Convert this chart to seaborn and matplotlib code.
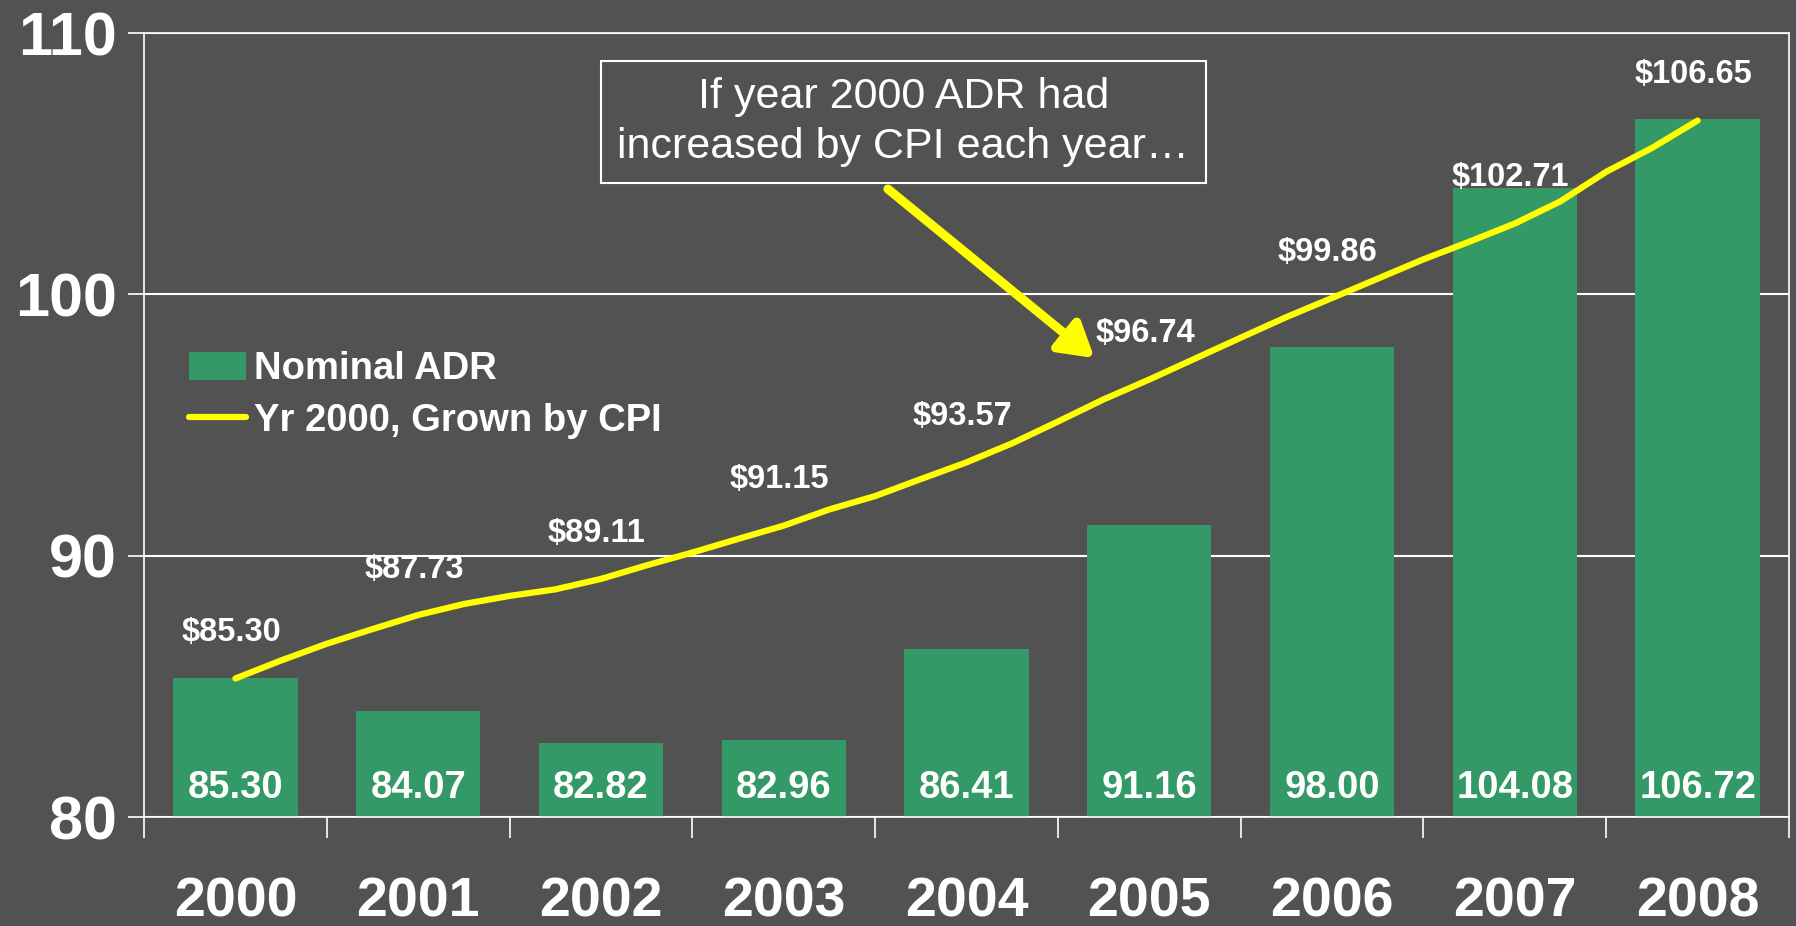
import numpy as np
import matplotlib
matplotlib.use("Agg")
import matplotlib.pyplot as plt
import seaborn as sns
from matplotlib.patches import Patch
from matplotlib.lines import Line2D

# ---------------- data ----------------
years = ["2000", "2001", "2002", "2003", "2004", "2005", "2006", "2007", "2008"]
nominal_adr = [85.30, 84.07, 82.82, 82.96, 86.41, 91.16, 98.00, 104.08, 106.72]
cpi_annual = [85.30, 87.73, 89.11, 91.15, 93.57, 96.74, 99.86, 102.71, 106.65]
# quarterly readings of the CPI-grown line (2000Q1 ... 2008Q1)
cpi_quarterly = [85.30, 85.99, 86.63, 87.19,
                 87.73, 88.15, 88.46, 88.71,
                 89.11, 89.63, 90.12, 90.64,
                 91.15, 91.77, 92.28, 92.93,
                 93.57, 94.30, 95.13, 95.98,
                 96.74, 97.54, 98.34, 99.13,
                 99.86, 100.60, 101.34, 102.01,
                 102.71, 103.56, 104.69, 105.60,
                 106.65]
yticks = [80, 90, 100, 110]
legend_labels = ["Nominal ADR", "Yr 2000, Grown by CPI"]
note_text = "If year 2000 ADR had\nincreased by CPI each year\u2026"

# ---------------- style ----------------
BG = "#525252"
GREEN = "#339966"
YELLOW = "#FFFF00"

sns.set_style("dark", {"axes.facecolor": BG, "figure.facecolor": BG})
plt.rcParams["font.family"] = ["Liberation Sans", "DejaVu Sans"]

W, H = 1796, 926
fig = plt.figure(figsize=(W / 100, H / 100), dpi=100)
fig.patch.set_facecolor(BG)
L, R, T, B = 144, 1789, 33, 817
ax = fig.add_axes([L / W, 1 - B / H, (R - L) / W, (B - T) / H])
ax.set_facecolor(BG)

# bars
sns.barplot(x=years, y=nominal_adr, color=GREEN, saturation=1, width=0.68,
            edgecolor="none", linewidth=0, ax=ax, zorder=2)

# line (quarterly positions on the categorical axis)
qpos = np.arange(len(cpi_quarterly)) / 4.0
ax.plot(qpos, cpi_quarterly, color=YELLOW, lw=4.5, solid_capstyle="round",
        solid_joinstyle="round", zorder=4)

# axes
ax.set_xlim(-0.5, len(years) - 0.5)
ax.set_ylim(80, 110)
ax.set_yticks(yticks)
ax.set_yticklabels([str(v) for v in yticks], fontsize=44, fontweight="bold",
                   color="white")
ax.yaxis.grid(True, color="white", lw=1.5, zorder=0)
ax.xaxis.grid(False)
ax.set_axisbelow(True)
ax.set_xlabel("")
ax.set_ylabel("")

ax.set_xticks(np.arange(-0.5, len(years), 1.0))
ax.set_xticklabels([])
ax.set_xticks(np.arange(len(years)), minor=True)
ax.set_xticklabels(years, minor=True, fontsize=40, fontweight="bold",
                   color="white")
ax.tick_params(axis="x", which="major", length=15, width=1.2, color="white",
               direction="out", bottom=True)
ax.tick_params(axis="x", which="minor", length=0, pad=42.5, bottom=True)
ax.tick_params(axis="y", which="major", length=11.5, width=1.2, color="white",
               direction="out", pad=8, left=True)

for sp in ax.spines.values():
    sp.set_visible(True)
    sp.set_color("white")
    sp.set_linewidth(1.2)

# value labels
for i, v in enumerate(nominal_adr):
    ax.annotate(f"{v:.2f}", xy=(i, 80), xytext=(0, 21),
                textcoords="offset points", ha="center", va="center",
                fontsize=27.5, fontweight="bold", color="white", zorder=5)
for i, v in enumerate(cpi_annual):
    ax.annotate(f"${v:.2f}", xy=(i, v), xytext=(-3, 33),
                textcoords="offset points", ha="center", va="center",
                fontsize=23.5, fontweight="bold", color="white", zorder=5)

# legend
handles = [Patch(facecolor=GREEN, edgecolor="none"),
           Line2D([0], [0], color=YELLOW, lw=4.5, solid_capstyle="round")]
leg = ax.legend(handles, legend_labels, loc="upper left",
                bbox_to_anchor=(0.0275, 0.594), frameon=False,
                prop={"size": 27.5, "weight": "bold"}, labelcolor="white",
                handlelength=1.48, handleheight=0.78, handletextpad=0.22,
                labelspacing=0.40, borderpad=0, borderaxespad=0)

# note box and arrow
ax.text(3.654, 106.6, note_text, ha="center", va="center", fontsize=31,
        color="white", linespacing=1.3, zorder=6,
        bbox=dict(boxstyle="square,pad=0.38", fc="none", ec="white", lw=1.5))
ax.annotate("", xy=(4.70, 97.56), xytext=(3.57, 104.03),
            arrowprops=dict(arrowstyle="-|>,head_length=1.0,head_width=0.6",
                            color=YELLOW, lw=6.5, mutation_scale=20,
                            shrinkA=0, shrinkB=0),
            zorder=6)

fig.savefig("out.png", dpi=100, facecolor=BG)
